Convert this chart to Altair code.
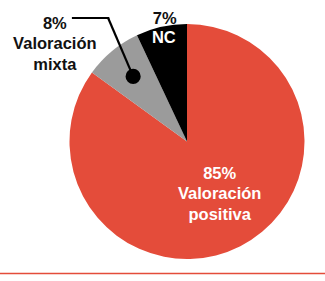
import math
import altair as alt
import pandas as pd

# ---- data ----
categories = ["Valoración positiva", "Valoración mixta", "NC"]
shares = [85, 8, 7]
pct_labels = ["85%", "8%", "7%"]
name_labels = ["Valoración\npositiva", "Valoración\nmixta", "NC"]
colors = ["#E44C3A", "#9B9B9B", "#000000"]

# ---- layout ----
W, H = 325, 281
CX, CY, R = 187, 141.5, 117.5
FONT = "Liberation Sans"


def only(idx, values):
    return [v if i == idx else "" for i, v in enumerate(values)]


df = pd.DataFrame({
    "cat": categories,
    "share": shares,
    "order": list(range(len(categories))),
    "lab_pos": only(0, [p + "\n" + n for p, n in zip(pct_labels, name_labels)]),
    "lab_mixta": only(1, [p + "\n" + n for p, n in zip(pct_labels, name_labels)]),
    "lab_nc_pct": only(2, pct_labels),
    "lab_nc": only(2, name_labels),
})

theta = alt.Theta("share:Q", stack=True)
order = alt.Order("order:Q")
base = alt.Chart(df)

pie = base.mark_arc(outerRadius=R, x=CX, y=CY).encode(
    theta=theta,
    order=order,
    color=alt.Color("cat:N", scale=alt.Scale(domain=categories, range=colors), legend=None),
)

txt = dict(x=CX, y=CY, font=FONT, fontWeight="bold", fontSize=16.5, lineHeight=20.5,
           lineBreak="\n", align="center", baseline="middle")

lab_pos = base.mark_text(radius=61, dx=5, dy=-22, color="white", **txt).encode(
    theta=theta, order=order, text="lab_pos:N")
lab_mixta = base.mark_text(radius=165, dx=-27, dy=9.5, color="#111111", **txt).encode(
    theta=theta, order=order, text="lab_mixta:N")
lab_nc_pct = base.mark_text(radius=125, dx=5, dy=-1, color="#111111", **txt).encode(
    theta=theta, order=order, text="lab_nc_pct:N")
lab_nc = base.mark_text(radius=106, dx=0, dy=0, color="white", **txt).encode(
    theta=theta, order=order, text="lab_nc:N")

# callout dot in the middle of the "mixta" slice, computed from the shares
total = sum(shares)
mid_frac = (sum(shares[:1]) + shares[1] / 2) / total
ang = 2 * math.pi * mid_frac
R_DOT = 84.5
dot_x = CX + R_DOT * math.sin(ang)
dot_y = CY - R_DOT * math.cos(ang)
elbow_x, elbow_y = dot_x - 25, 18
end_x = 73

anno = pd.DataFrame({"k": [0]})
dot = alt.Chart(anno).mark_circle(size=230, color="#000000", opacity=1).encode(
    x=alt.value(dot_x), y=alt.value(dot_y))
lead1 = alt.Chart(anno).mark_rule(color="#000000", strokeWidth=2.2).encode(
    x=alt.value(dot_x), y=alt.value(dot_y), x2=alt.value(elbow_x), y2=alt.value(elbow_y))
lead2 = alt.Chart(anno).mark_rule(color="#000000", strokeWidth=2.2, strokeCap="square").encode(
    x=alt.value(elbow_x), y=alt.value(elbow_y), x2=alt.value(end_x), y2=alt.value(elbow_y))

baseline = alt.Chart(anno).mark_rule(color="#E44C3A", strokeWidth=1.5).encode(
    x=alt.value(0), x2=alt.value(W), y=alt.value(273.5))

chart = alt.layer(pie, lead1, lead2, dot, lab_pos, lab_mixta, lab_nc_pct, lab_nc, baseline).properties(
    width=W, height=H, padding=0, autosize=alt.AutoSizeParams(type="none"),
    background="white",
).configure_view(stroke=None)

chart.save("out.html", embed_options={"renderer": "svg", "actions": False})
